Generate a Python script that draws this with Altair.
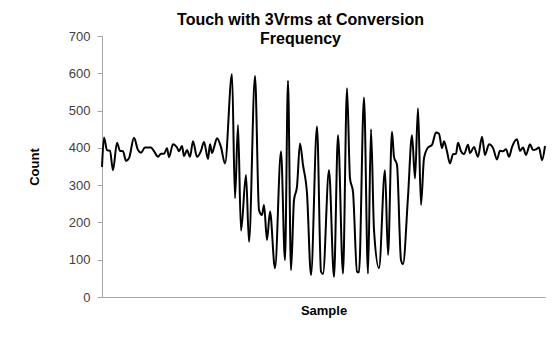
import altair as alt
import pandas as pd

samples = [0,2,5,8,11,15,18,21,24,27,32,36,39,43,49,52,56,59,62,65,67,71,75,77,80,82,85,88,91,95,
           99,102,106,108,110,112,115,119,123,130,133,136,139,144,147,153,157,160,162,165,168,173,179,183,186,189,192,195,198,201,
           205,209,215,219,221,227,232,236,241,245,248,251,255,257,262,266,269,272,277,283,286,290,292,295,299,301,306,310,313,316,
           319,322,326,330,334,337,340,342,345,348,351,354,356,359,362,366,368,372,376,380,383,387,391,395,398,401,404,407,410,415,
           418,421,424,428,431,434,437,440,443]
counts = [349,428,394,392,340,414,392,391,365,372,427,394,387,401,401,391,376,384,384,399,375,410,401,391,405,378,394,376,418,376,
          392,416,370,410,386,401,426,402,358,598,265,461,178,327,148,593,233,220,247,153,229,77,390,99,580,72,260,296,412,354,
          278,59,457,68,62,340,54,434,63,560,318,282,68,66,535,63,450,180,77,340,113,443,376,354,99,88,269,434,318,506,
          247,372,401,408,441,438,399,418,390,358,383,384,414,391,383,408,386,402,376,430,381,410,400,369,392,391,396,376,402,423,
          392,401,381,410,394,396,401,367,405]
assert len(samples) == len(counts)

y_ticks = [0, 100, 200, 300, 400, 500, 600, 700]
title_lines = ["Touch with 3Vrms at Conversion", "Frequency"]

df = pd.DataFrame({"Sample": samples, "Count": counts})

FONT = "Liberation Sans"

chart = alt.Chart(df).mark_line(color="black", strokeWidth=2, interpolate="monotone").encode(
    x=alt.X("Sample:Q", scale=alt.Scale(domain=[0, 443], nice=False, zero=False),
            axis=alt.Axis(title="Sample", labels=False, ticks=False, grid=False,
                          domainColor="#a6a6a6", titleFont=FONT, titleFontSize=13,
                          titleFontWeight="bold", titleColor="black", titlePadding=7)),
    y=alt.Y("Count:Q", scale=alt.Scale(domain=[0, 700], nice=False),
            axis=alt.Axis(title="Count", values=y_ticks, grid=False, domainColor="#a6a6a6",
                          tickColor="#a6a6a6", tickSize=5, labelFont=FONT, labelFontSize=13,
                          labelColor="#404040", labelPadding=7, titleFont=FONT, titleFontSize=13,
                          titleFontWeight="bold", titleColor="black", titlePadding=27)),
).properties(
    width=443, height=261,
    autosize="none",
    padding={"left": 94, "top": 28, "right": 5, "bottom": 30},
    title=alt.TitleParams(title_lines, font=FONT, fontSize=16, fontWeight="bold", color="black",
                          dx=-23, offset=-17, lineHeight=19, anchor="middle"),
).configure_view(stroke=None)

chart.save("out.html", embed_options={"renderer": "svg", "actions": False})
